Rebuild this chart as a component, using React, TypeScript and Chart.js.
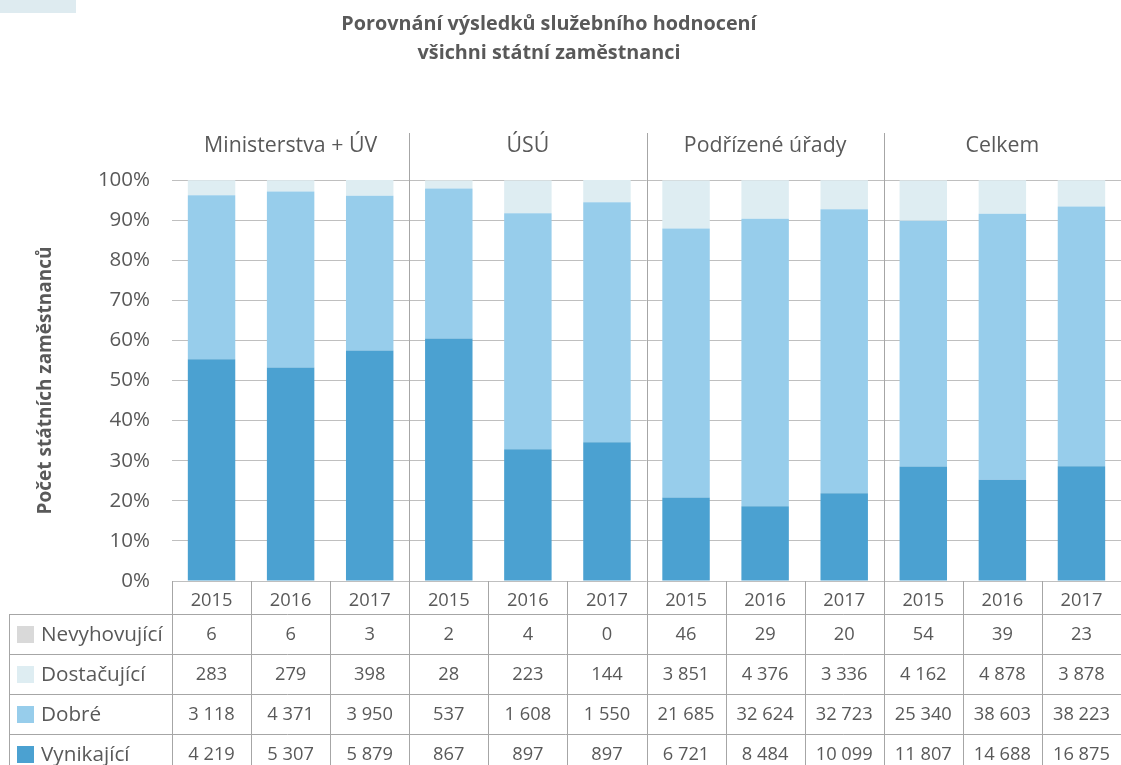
import React, { useEffect, useRef } from "react";
import { Chart, registerables } from "chart.js";

Chart.register(...registerables);

const titleLines = ["Porovnání výsledků služebního hodnocení", "všichni státní zaměstnanci"];
const yAxisTitle = "Počet státních zaměstnanců";
const groups = ["Ministerstva + ÚV", "ÚSÚ", "Podřízené úřady", "Celkem"];
const years = ["2015", "2016", "2017", "2015", "2016", "2017", "2015", "2016", "2017", "2015", "2016", "2017"];
const seriesNames = ["Nevyhovující", "Dostačující", "Dobré", "Vynikající"];
const nevyhovujici = [6, 6, 3, 2, 4, 0, 46, 29, 20, 54, 39, 23];
const dostacujici = [283, 279, 398, 28, 223, 144, 3851, 4376, 3336, 4162, 4878, 3878];
const dobre = [3118, 4371, 3950, 537, 1608, 1550, 21685, 32624, 32723, 25340, 38603, 38223];
const vynikajici = [4219, 5307, 5879, 867, 897, 897, 6721, 8484, 10099, 11807, 14688, 16875];
const yTicks = [0, 10, 20, 30, 40, 50, 60, 70, 80, 90, 100];

const colors = {
  nevyhovujici: "#d9d9d9",
  dostacujici: "#deedf2",
  dobre: "#97cdeb",
  vynikajici: "#4ba1d1",
};
const textColor = "#595959";
const lineColor = "#a6a6a6";
const FONT = "'Open Sans', 'Noto Sans', sans-serif";

const totals = years.map((_, i) => nevyhovujici[i] + dostacujici[i] + dobre[i] + vynikajici[i]);
const pct = (arr: number[]) => arr.map((v, i) => (v / totals[i]) * 100);
const fmt = (v: number) => String(v).replace(/\B(?=(\d{3})+(?!\d))/g, " ");

const tableRows = [
  { name: seriesNames[0], values: nevyhovujici, color: colors.nevyhovujici },
  { name: seriesNames[1], values: dostacujici, color: colors.dostacujici },
  { name: seriesNames[2], values: dobre, color: colors.dobre },
  { name: seriesNames[3], values: vynikajici, color: colors.vynikajici },
];

const tablePlugin = {
  id: "tablePlugin",
  beforeDraw(chart: any) {
    const ctx = chart.ctx;
    ctx.save();
    ctx.fillStyle = "#deebf0";
    ctx.fillRect(0, 0, 76, 13);
    ctx.restore();
  },
  afterDraw(chart: any) {
    const ctx = chart.ctx;
    const area = chart.chartArea;
    const xs = chart.scales.x;
    const n = years.length;
    const edge = (i: number) =>
      i === 0 ? area.left : i === n ? area.right : (xs.getPixelForValue(i - 1) + xs.getPixelForValue(i)) / 2;
    const yearRowBottom = area.bottom + 33;
    const rowH = 40;
    const tableLeft = 9.5;
    const H = chart.height;

    ctx.save();
    ctx.strokeStyle = lineColor;
    ctx.lineWidth = 1;
    for (let i = 0; i < n; i++) {
      const x = Math.round(edge(i)) + 0.5;
      const isGroup = i % 3 === 0 && i > 0;
      ctx.beginPath();
      ctx.moveTo(x, isGroup ? 133 : area.bottom);
      ctx.lineTo(x, H);
      ctx.stroke();
    }
    ctx.beginPath();
    ctx.moveTo(tableLeft, yearRowBottom);
    ctx.lineTo(tableLeft, H);
    ctx.stroke();
    for (let r = 0; r < 4; r++) {
      const y = Math.round(yearRowBottom + r * rowH) + 0.5;
      ctx.beginPath();
      ctx.moveTo(tableLeft, y);
      ctx.lineTo(area.right, y);
      ctx.stroke();
    }

    ctx.textBaseline = "middle";
    tableRows.forEach((row, r) => {
      const cy = yearRowBottom + r * rowH + rowH / 2;
      ctx.fillStyle = row.color;
      ctx.fillRect(17, cy - 8, 17, 17);
      ctx.fillStyle = textColor;
      ctx.textAlign = "left";
      ctx.font = `20.7px ${FONT}`;
      ctx.fillText(row.name, 41, cy + 1);
      ctx.textAlign = "center";
      ctx.font = `18.3px ${FONT}`;
      row.values.forEach((v, i) => {
        ctx.fillText(fmt(v), (edge(i) + edge(i + 1)) / 2, cy + 1);
      });
    });

    ctx.font = `21.3px ${FONT}`;
    ctx.textAlign = "center";
    groups.forEach((g, k) => {
      const cx = (edge(k * 3) + edge(k * 3 + 3)) / 2;
      ctx.fillText(g, cx, 146);
    });

    ctx.font = `bold 19.8px ${FONT}`;
    titleLines.forEach((t, k) => {
      ctx.fillText(t, 549, 24 + k * 29);
    });
    ctx.restore();
  },
};

export default function App() {
  const ref = useRef<HTMLCanvasElement>(null);
  useEffect(() => {
    if (!ref.current) return;
    const chart = new Chart(ref.current, {
      type: "bar",
      data: {
        labels: years,
        datasets: [
          { label: seriesNames[3], data: pct(vynikajici), backgroundColor: colors.vynikajici },
          { label: seriesNames[2], data: pct(dobre), backgroundColor: colors.dobre },
          { label: seriesNames[1], data: pct(dostacujici), backgroundColor: colors.dostacujici },
          { label: seriesNames[0], data: pct(nevyhovujici), backgroundColor: colors.nevyhovujici },
        ],
      },
      options: {
        responsive: false,
        animation: false,
        events: [],
        layout: { padding: { top: 180, right: 0, left: 0, bottom: 0 } },
        datasets: { bar: { categoryPercentage: 1, barPercentage: 0.6 } },
        plugins: { legend: { display: false }, tooltip: { enabled: false }, title: { display: false } },
        scales: {
          x: {
            stacked: true,
            grid: { display: false, drawTicks: false },
            border: { display: false },
            ticks: { color: textColor, font: { family: FONT, size: 18.3 }, padding: 9, maxRotation: 0, autoSkip: false },
            afterFit: (s: any) => {
              s.height = 184;
            },
          },
          y: {
            stacked: true,
            min: 0,
            max: 100,
            afterBuildTicks: (s: any) => {
              s.ticks = yTicks.map((v) => ({ value: v }));
            },
            grid: { color: "#bfbfbf", drawTicks: false, lineWidth: 1 },
            border: { display: false },
            ticks: {
              color: textColor,
              font: { family: FONT, size: 20.5 },
              padding: 22,
              callback: (v: any) => v + "%",
            },
            title: {
              display: true,
              text: yAxisTitle,
              color: textColor,
              font: { family: FONT, size: 19, weight: "bold" },
              padding: { top: 34, bottom: 0 },
            },
            afterFit: (s: any) => {
              s.width = 172;
            },
          },
        },
      },
      plugins: [tablePlugin],
    });
    return () => chart.destroy();
  }, []);
  return (
    <div style={{ position: "absolute", left: 0, top: 0, width: 1121, height: 765, background: "#fff" }}>
      <canvas ref={ref} width={1121} height={765} />
    </div>
  );
}
